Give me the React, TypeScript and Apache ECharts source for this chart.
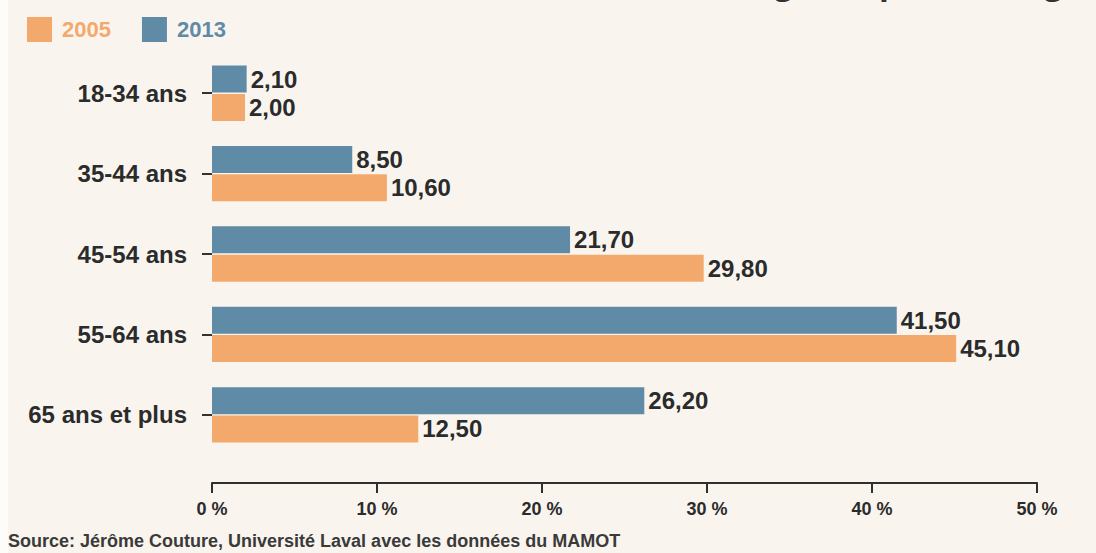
import React, { useEffect, useRef } from "react";
import * as echarts from "echarts";

const categories = ["18-34 ans", "35-44 ans", "45-54 ans", "55-64 ans", "65 ans et plus"];
const values2013 = [2.1, 8.5, 21.7, 41.5, 26.2];
const values2005 = [2.0, 10.6, 29.8, 45.1, 12.5];
const seriesNames = ["2005", "2013"];
const xTicks = [0, 10, 20, 30, 40, 50];
const titleText = "Les maires selon leur âge (en pourcentage)";
const sourceText = "Source: Jérôme Couture, Université Laval avec les données du MAMOT";

const ORANGE = "#f4a96c";
const BLUE = "#5f8ba6";
const DARK = "#2b2b2b";
const FONT = "'Liberation Sans', Arial, sans-serif";

const fmt = (v: number) => v.toFixed(2).replace(".", ",");

export default function App() {
  const ref = useRef<HTMLDivElement>(null);
  useEffect(() => {
    const chart = echarts.init(ref.current!, null, { renderer: "svg" });
    const labelStyle = {
      show: true,
      position: "right" as const,
      distance: 4,
      formatter: (p: any) => fmt(p.value),
      color: DARK,
      fontFamily: FONT,
      fontWeight: "bold" as const,
      fontSize: 24,
    };
    const legendText = (color: string) => ({
      color,
      fontFamily: FONT,
      fontWeight: "bold",
      fontSize: 22,
      padding: [0, 0, 0, 5],
    });
    chart.setOption({
      animation: false,
      backgroundColor: "#f9f5ee",
      graphic: [
        { type: "rect", left: 0, top: 0, shape: { width: 8, height: 553 }, style: { fill: "#fdfcf9" } },
        {
          type: "text",
          x: 1092,
          y: -19,
          style: {
            text: titleText,
            align: "right",
            verticalAlign: "middle",
            fontFamily: "'Open Sans', sans-serif",
            fontWeight: "bold",
            fontSize: 32,
            fill: "#333",
          },
        },
        {
          type: "text",
          x: 8,
          y: 541,
          style: {
            text: sourceText,
            verticalAlign: "middle",
            fontFamily: FONT,
            fontWeight: "bold",
            fontSize: 18,
            fill: "#3a3a3a",
          },
        },
      ],
      legend: {
        left: 27,
        top: 17,
        padding: 0,
        itemWidth: 25,
        itemHeight: 25,
        itemGap: 31,
        icon: "rect",
        data: [
          { name: seriesNames[0], textStyle: legendText(ORANGE) },
          { name: seriesNames[1], textStyle: legendText(BLUE) },
        ],
        textStyle: { fontFamily: FONT, fontWeight: "bold", fontSize: 22 },
      },
      grid: { left: 212, right: 59, top: 53, bottom: 98, containLabel: false },
      xAxis: {
        type: "value",
        min: 0,
        max: 50,
        interval: 10,
        offset: 28,
        axisLine: { show: true, lineStyle: { color: "#2f2f2f", width: 2 } },
        axisTick: { show: true, length: 10, lineStyle: { color: "#2f2f2f", width: 2 } },
        splitLine: { show: false },
        axisLabel: {
          margin: 17,
          formatter: (v: number) => (xTicks.includes(v) ? `${v} %` : ""),
          color: DARK,
          fontFamily: FONT,
          fontWeight: "bold",
          fontSize: 18,
        },
      },
      yAxis: {
        type: "category",
        inverse: true,
        data: categories,
        offset: 2,
        axisLine: { show: false },
        axisTick: { show: true, alignWithLabel: true, length: 10, lineStyle: { color: "#333", width: 2 } },
        axisLabel: {
          margin: 23,
          padding: [4, 0, 0, 0],
          color: DARK,
          fontFamily: FONT,
          fontWeight: "bold",
          fontSize: 24,
        },
      },
      series: [
        {
          name: seriesNames[1],
          type: "bar",
          data: values2013,
          barWidth: 27,
          barGap: "5%",
          itemStyle: { color: BLUE },
          label: labelStyle,
        },
        {
          name: seriesNames[0],
          type: "bar",
          data: values2005,
          barWidth: 27,
          barGap: "5%",
          itemStyle: { color: ORANGE },
          label: labelStyle,
        },
      ],
    });
    return () => chart.dispose();
  }, []);
  return (
    <div
      ref={ref}
      style={{ position: "fixed", left: 0, top: 0, width: 1096, height: 553 }}
    />
  );
}
